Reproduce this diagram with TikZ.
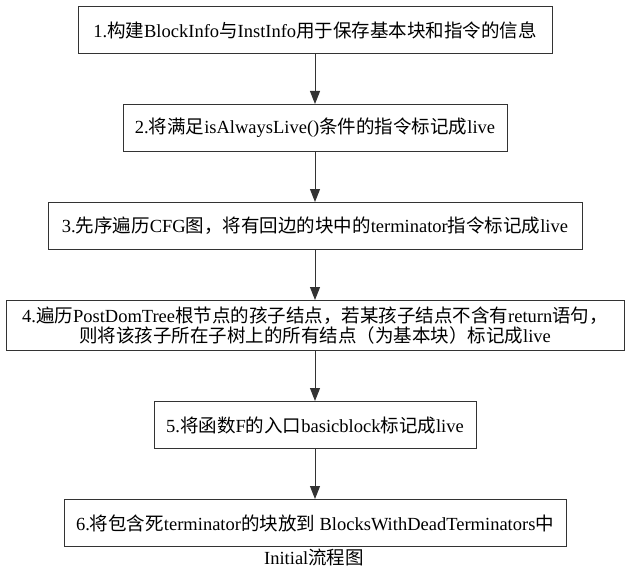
\documentclass[tikz,border=0pt]{standalone}
\usepackage{fontspec}
\setmainfont{Liberation Serif}
\newfontfamily\cjk{Noto Sans CJK SC}
\newcommand{\zh}[1]{{\cjk #1}}
\usetikzlibrary{positioning,arrows.meta}

\begin{document}
\begin{tikzpicture}[x=1pt,y=1pt,
  every node/.style={font=\fontsize{18.5}{19.5}\selectfont},
  box/.style={draw=black!80,line width=1pt,minimum height=47pt,inner xsep=2pt,inner ysep=2pt,align=center},
  flow/.style={draw=black!80,line width=1pt,-{Triangle[length=13pt,width=10pt]}},
  node distance=50pt]

\useasboundingbox (0,0) rectangle (628,-580);

% les six etapes
\node[box,minimum width=474pt] (build) at (315,-30) {1.\zh{构建}BlockInfo\zh{与}InstInfo\zh{用于保存基本块和指令的信息}};
\node[box,minimum width=384pt,below=of build] (always) {2.\zh{将满足}isAlwaysLive()\zh{条件的指令标记成}live};
\node[box,minimum width=534pt,below=of always] (cfg) {3.\zh{先序遍历}CFG\zh{图，将有回边的块中的}terminator\zh{指令标记成}live};
\node[box,minimum width=618pt,minimum height=50pt,below=of cfg] (pdt) {4.\zh{遍历}PostDomTree\zh{根节点的孩子结点，若某孩子结点不含有}return\zh{语句，}\\ \zh{则将该孩子所在子树上的所有结点（为基本块）标记成}live};
\node[box,minimum width=322pt,below=of pdt] (entry) {5.\zh{将函数}F\zh{的入口}basicblock\zh{标记成}live};
\node[box,minimum width=502pt,below=of entry] (dead) {6.\zh{将包含死}terminator\zh{的块放到} BlocksWithDeadTerminators\zh{中}};

\node (caption) at (314,-557) {Initial\zh{流程图}};

\draw[flow] (build)--(always);
\draw[flow] (always)--(cfg);
\draw[flow] (cfg)--(pdt);
\draw[flow] (pdt)--(entry);
\draw[flow] (entry)--(dead);
\end{tikzpicture}
\end{document}
